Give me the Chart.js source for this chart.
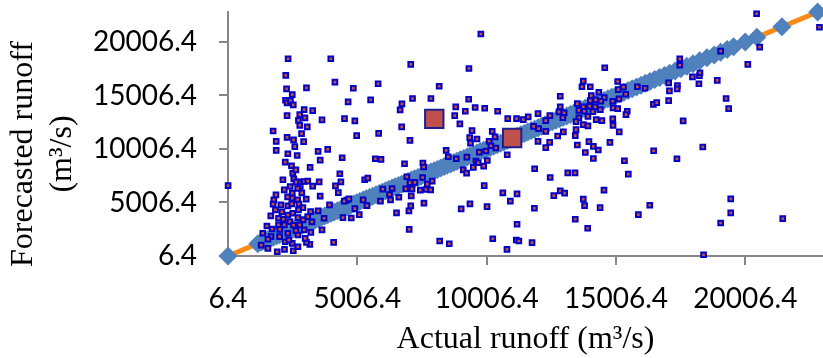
<!DOCTYPE html>
<html>
<head>
<meta charset="utf-8">
<script src="https://cdn.jsdelivr.net/npm/chart.js@4.4.1/dist/chart.umd.min.js"></script>
<style>
  body { margin: 0; background: #fff; }
  #wrap { width: 823px; height: 358px; }
</style>
</head>
<body>
<div id="wrap"><canvas id="chart"></canvas></div>
<script>
// tick values / labels (same for both axes)
const tickValues = [6.4, 5006.4, 10006.4, 15006.4, 20006.4];
const tickLabels = ["6.4", "5006.4", "10006.4", "15006.4", "20006.4"];

const xTitle = "Actual runoff (m³/s)";
const yTitle = ["Forecasted runoff", "(m³/s)"];

// actual vs actual: diamonds sitting on the 1:1 line
const diagRunoff = [6.4, 1160, 1290, 1400, 1530, 1640, 1760, 1890, 2000, 2130, 2260, 2370, 2500, 2610, 2750,
  2880, 3000, 3120, 3250, 3370, 3490, 3620, 3740, 3860, 3990, 4110, 4240, 4360, 4480, 4610, 4730, 4860,
  4980, 5100, 5230, 5350, 5480, 5600, 5730, 5850, 5970, 6100, 6220, 6350, 6470, 6600, 6720, 6850, 6970,
  7100, 7220, 7350, 7470, 7600, 7730, 7850, 7980, 8100, 8230, 8360, 8480, 8610, 8740, 8860, 8990, 9120,
  9250, 9370, 9500, 9630, 9760, 9890, 10020, 10150, 10280, 10410, 10540, 10670, 10800, 10930, 11060,
  11190, 11330, 11460, 11590, 11730, 11860, 12000, 12130, 12270, 12400, 12540, 12680, 12820, 12960,
  13100, 13240, 13380, 13520, 13660, 13810, 13950, 14100, 14240, 14390, 14540, 14690, 14840, 15000,
  15150, 15310, 15470, 15630, 15800, 15970, 16140, 16320, 16500, 16690, 16880, 17080, 17290, 17510,
  17740, 17980, 18240, 18520, 18800, 19050, 19300, 19550, 20000, 20450, 21420, 22800];

// 1:1 reference line
const lineX = [6.4, 23006.4];
const lineY = [6.4, 23006.4];

// [actual, forecasted] runoff pairs
const forecastPairs = [
  [10,6590],[2330,18440],[3980,18440],[2240,16880],[2270,15630],[3040,15720],[4140,16250],[4850,15680],[5810,16100],[7070,17910],
  [9780,20750],[9320,17530],[8170,15870],[4650,14410],[5520,14600],[6730,14220],[6660,13660],[7140,14720],[7850,14720],[9310,14650],
  [8810,13940],[9180,13530],[9560,13880],[9930,13810],[10430,13530],[8770,13130],[8970,12350],[6720,12070],[7040,10810],[5830,11470],
  [4980,11250],[4910,12630],[4510,12840],[3640,12720],[3070,12070],[3280,13590],[2950,13690],[2290,13130],[2230,14560],[2290,14320],
  [2420,14530],[2490,15090],[2530,14130],[2780,13220],[2980,12910],[2730,12680],[2780,12220],[2850,11440],[2930,10690],[1750,11690],
  [2290,11090],[2540,10850],[2590,10220],[1870,9870],[2320,9560],[2680,9400],[2220,8780],[2460,8440],[2510,7750],[2550,7220],
  [3180,8280],[3490,9780],[3860,9970],[3570,8970],[4420,9190],[4330,7690],[4370,6940],[4160,6560],[4270,5930],[3530,6940],
  [3280,6530],[3570,5600],[2750,6940],[2950,6970],[5700,9090],[5920,9030],[5290,7130],[5410,7280],[6830,8630],[7540,8690],
  [7570,8320],[6920,7410],[7230,6890],[7530,7340],[7900,7000],[8440,9870],[8520,9280],[8830,9090],[9240,9250],[9590,8880],
  [9720,9720],[10030,8930],[9100,8060],[9490,8280],[9890,8410],[9230,7750],[9910,6590],[10360,10100],[9350,11060],[9630,10940],
  [10220,11650],[10100,10720],[9440,11720],[5990,6250],[6250,5750],[6350,6310],[6610,5500],[6880,6280],[7120,6280],[7090,5630],
  [7440,6160],[7660,6220],[6290,5250],[5900,5130],[5230,5250],[5380,4720],[4600,5220],[4500,5130],[3930,4780],[4910,4430],
  [5080,3870],[4450,3590],[4770,3560],[3720,3530],[6520,4030],[7000,4220],[7070,4690],[7580,4940],[9020,4410],[9360,4880],
  [10020,4620],[7010,2500],[8190,1410],[8560,1150],[10240,1620],[4090,1280],[3640,2440],[3210,2220],[3170,1100],[3040,1280],
  [1870,10720],[2640,6910],[2800,6500],[3090,7000],[2410,6500],[2180,6190],[2490,5880],[2700,6310],[2310,5530],[2490,5410],
  [2700,5250],[3030,5320],[1780,5250],[1750,4850],[1840,4310],[1660,3750],[2320,4690],[2470,4880],[2750,4850],[2900,4530],
  [3200,4150],[3490,4220],[3090,3680],[1960,3530],[2150,3440],[2320,3840],[2510,4000],[2730,4310],[2710,3590],[2910,3380],
  [2400,3220],[1960,2910],[2180,2910],[2540,2880],[2630,2370],[2950,2440],[1710,2530],[2010,2500],[2320,2130],[2710,1970],
  [2990,1660],[1350,2130],[1670,1810],[2000,1810],[1550,1570],[1290,1030],[1550,720],[1910,400],[2190,630],[2530,500],
  [2710,870],[2220,1340],[2490,1190],[4680,5340],[2050,4780],[1860,5720],[2860,5910],[2090,4130],[2780,2910],[2360,1500],
  [2130,7130],[2630,8060],[1510,2810],[3250,3190],[10820,12840],[11160,12840],[11420,12750],[10330,11130],[10170,10310],[9980,9820],
  [9680,8720],[10800,9470],[7040,6870],[7710,6720],[7840,6190],[10630,5910],[10920,5130],[11180,5810],[11180,2970],[11150,1500],
  [11250,1410],[10790,630],[9380,10550],[14570,17600],[13740,16340],[13690,15820],[14010,15820],[15070,16310],[15090,15560],[15290,15780],
  [15830,15820],[16130,15680],[14340,15310],[12850,14930],[14050,15000],[14550,14810],[15120,14690],[15380,15120],[14010,14530],[14220,14600],
  [14420,14470],[13510,14250],[13740,13940],[13990,14000],[14200,13940],[14880,14470],[14890,13850],[15070,13780],[12850,13940],[12800,13470],
  [13000,13380],[13570,13620],[13780,13530],[14110,13500],[14400,13690],[15440,13530],[15390,13220],[16450,14180],[16580,14340],[17040,16190],
  [17070,15440],[17040,14530],[11990,13310],[11610,13000],[12450,13130],[12290,12660],[12950,12940],[13570,12910],[13920,13060],[14240,12750],
  [14460,12660],[14880,12820],[14890,12220],[13460,12560],[13460,11810],[13740,12280],[13920,12160],[11820,12120],[12010,11910],[12290,11650],
  [12970,11600],[15130,11600],[12750,11220],[13430,11250],[11990,10720],[12440,10620],[12290,10130],[13510,10380],[13960,10690],[14130,10250],
  [14320,9910],[13820,9680],[14130,9120],[14770,10620],[16460,9840],[15330,8910],[15480,7660],[11860,8160],[12460,7340],[13140,7780],
  [13420,7780],[14540,6160],[12850,6090],[13020,5880],[12600,5650],[13740,5320],[13790,4720],[14390,4530],[11850,4470],[16310,4750],
  [15870,3870],[13430,3440],[13910,2600],[11760,1250],[17360,9090],[18360,10190],[17600,12630],[18920,16410],[19260,14720],[19360,13780],
  [19440,5340],[19440,4030],[19050,3090],[21450,3500],[18390,120],[20100,17910],[20560,19530],[20440,22640],[22870,21380],[19050,19150],
  [17470,18420],[17470,17830],[17960,16750],[18230,16850],[18210,16100],[18250,17130],[17380,15940],[17370,15630]
];

// two highlighted points
const markActual = [7980, 10990];
const markForecast = [12820, 11030];

const axisTitles = {
  id: 'axisTitles',
  afterDraw(chart) {
    const ctx = chart.ctx;
    const area = chart.chartArea;
    ctx.save();
    ctx.fillStyle = '#000';
    ctx.font = '32px "Liberation Serif"';
    ctx.textAlign = 'center';
    ctx.textBaseline = 'middle';
    ctx.fillText(xTitle, (area.left + area.right) / 2, 340);
    ctx.translate(24, 154);
    ctx.rotate(-Math.PI / 2);
    ctx.fillText(yTitle[0], 0, 0);
    ctx.fillText(yTitle[1], 0, 39);
    ctx.restore();
  }
};

function axisOpts(min, max, isX) {
  return {
    type: 'linear',
    min: min,
    max: max,
    afterFit(s) {
      if (isX) s.height = 102; else s.width = 228;
      s.paddingTop = 0;
      s.paddingBottom = 0;
      s.paddingLeft = 0;
      s.paddingRight = 0;
    },
    afterBuildTicks(s) {
      s.ticks = tickValues.map(v => ({ value: v }));
    },
    ticks: {
      callback: (v, i) => tickLabels[i],
      font: { family: 'Lato', size: 28 },
      color: '#000',
      padding: isX ? 17 : 22,
      maxRotation: 0,
      autoSkip: false
    },
    grid: { drawOnChartArea: false, tickLength: 9, color: '#868686', lineWidth: 2 },
    border: { color: '#868686', width: 2 }
  };
}

new Chart(document.getElementById('chart'), {
  type: 'scatter',
  data: {
    datasets: [
      {
        data: markActual.map((x, i) => ({ x: x, y: markForecast[i] })),
        pointStyle: 'rect',
        pointRadius: 13,
        backgroundColor: '#C0504D',
        borderColor: '#1E1E90',
        borderWidth: 2
      },
      {
        data: forecastPairs.map(p => ({ x: p[0], y: p[1] })),
        pointStyle: 'rect',
        pointRadius: 3.3,
        backgroundColor: '#C8503F',
        borderColor: '#0000C8',
        borderWidth: 2,
        clip: false
      },
      {
        data: diagRunoff.map(v => ({ x: v, y: v })),
        pointStyle: 'rectRot',
        pointRadius: 9.5,
        backgroundColor: '#4F81BD',
        borderWidth: 0,
        clip: false
      },
      {
        data: lineX.map((x, i) => ({ x: x, y: lineY[i] })),
        showLine: true,
        pointRadius: 0,
        borderColor: '#F98A16',
        borderWidth: 5
      }
    ]
  },
  options: {
    responsive: true,
    maintainAspectRatio: false,
    devicePixelRatio: 1,
    animation: false,
    events: [],
    layout: { autoPadding: false, padding: { top: 12, right: 0, left: 0, bottom: 0 } },
    plugins: { legend: { display: false }, tooltip: { enabled: false } },
    scales: {
      x: axisOpts(6.4, 23006.4, true),
      y: axisOpts(6.4, 22806.4, false)
    }
  },
  plugins: [axisTitles]
});
</script>
</body>
</html>
